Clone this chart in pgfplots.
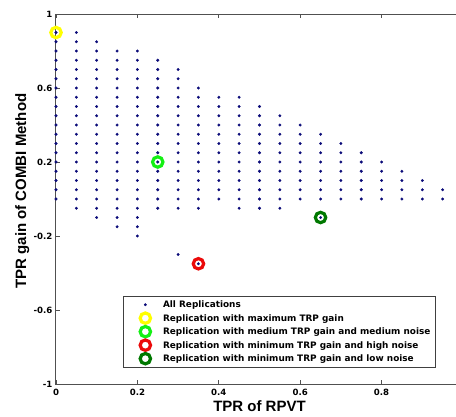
\documentclass[border=0pt]{standalone}
\usepackage{fontspec}
\setmainfont{Liberation Sans}
\newfontfamily\dejavu{DejaVu Sans}
\usepackage{pgfplots}
\pgfplotsset{compat=1.18}
\newcommand\tickfont{\dejavu\bfseries\fontsize{8.6}{10}\selectfont}
\newcommand\legfont{\dejavu\bfseries\fontsize{8.9}{10}\selectfont}
\newcommand\labfont{\bfseries\fontsize{15}{18}\selectfont}
\definecolor{dotblue}{RGB}{10,10,120}
\definecolor{ringyellow}{RGB}{255,255,0}
\definecolor{ringgreen}{RGB}{20,240,20}
\definecolor{ringred}{RGB}{235,10,10}
\definecolor{ringdark}{RGB}{0,120,0}
\definecolor{axgray}{RGB}{80,80,80}
\begin{document}
\begin{tikzpicture}
\begin{axis}[
  scale only axis, width=407pt, height=370pt,
  xmin=0, xmax=1, ymin=-1, ymax=1,
  xtick={0,0.2,0.4,0.6,0.8}, xticklabels={0,0.2,0.4,0.6,0.8},
  ytick={-1,-0.6,-0.2,0.2,0.6,1}, yticklabels={-1,-0.6,-0.2,0.2,0.6,1},
  tick align=inside, major tick length=4pt,
  axis line style={draw=axgray, line width=1pt},
  tick style={draw=axgray, line width=0.8pt},
  ticklabel style={font=\tickfont},
  xticklabel style={yshift=-2pt},
  clip=false,
  xlabel={TPR of RPVT}, ylabel={TPR gain of COMBI Method},
  xlabel style={font=\labfont, at={(axis description cs:0.5,-0.073)}, anchor=base},
  ylabel style={font=\labfont, at={(axis description cs:-0.0737,0.5216)}, anchor=base},
  legend style={draw=black!75, line width=0.6pt, fill=white,
    inner xsep=5pt, inner ysep=1.6pt, column sep=0pt, row sep=0pt,
    at={(axis description cs:0.164,0.2378)}, anchor=north west,
    font=\legfont, cells={anchor=west},
    nodes={inner sep=0pt, text height=6.3pt, text depth=0pt}},
  legend image code/.code={%
    \path[draw=none, fill=none] (-17.3pt,-6.75pt) rectangle (17.7pt,6.75pt);
    \draw[#1] plot coordinates {(0pt,0pt)};},
]
\addplot[only marks, mark=*, mark size=1.3pt, draw=dotblue, fill=dotblue, line width=0.3pt] coordinates {
(0,0.9)(0,0.85)(0,0.8)(0,0.75)(0,0.7)(0,0.65)(0,0.6)(0,0.55)(0,0.5)(0,0.45)(0,0.4)(0,0.35)(0,0.3)(0,0.25)(0,0.2)(0,0.15)(0,0.1)(0,0.05)(0,0)
(0.05,0.9)(0.05,0.85)(0.05,0.8)(0.05,0.75)(0.05,0.7)(0.05,0.65)(0.05,0.6)(0.05,0.55)(0.05,0.5)(0.05,0.45)(0.05,0.4)(0.05,0.35)(0.05,0.3)(0.05,0.25)(0.05,0.2)(0.05,0.15)(0.05,0.1)(0.05,0.05)(0.05,0)(0.05,-0.05)
(0.1,0.85)(0.1,0.8)(0.1,0.75)(0.1,0.7)(0.1,0.65)(0.1,0.6)(0.1,0.55)(0.1,0.5)(0.1,0.45)(0.1,0.4)(0.1,0.35)(0.1,0.3)(0.1,0.25)(0.1,0.2)(0.1,0.15)(0.1,0.1)(0.1,0.05)(0.1,0)(0.1,-0.05)(0.1,-0.1)
(0.15,0.8)(0.15,0.75)(0.15,0.7)(0.15,0.65)(0.15,0.6)(0.15,0.55)(0.15,0.5)(0.15,0.45)(0.15,0.4)(0.15,0.35)(0.15,0.3)(0.15,0.25)(0.15,0.2)(0.15,0.15)(0.15,0.1)(0.15,0.05)(0.15,0)(0.15,-0.05)(0.15,-0.1)(0.15,-0.15)
(0.2,0.8)(0.2,0.75)(0.2,0.7)(0.2,0.65)(0.2,0.6)(0.2,0.55)(0.2,0.5)(0.2,0.45)(0.2,0.4)(0.2,0.35)(0.2,0.3)(0.2,0.25)(0.2,0.2)(0.2,0.15)(0.2,0.1)(0.2,0.05)(0.2,0)(0.2,-0.05)(0.2,-0.1)(0.2,-0.15)(0.2,-0.2)
(0.25,0.75)(0.25,0.7)(0.25,0.65)(0.25,0.6)(0.25,0.55)(0.25,0.5)(0.25,0.45)(0.25,0.4)(0.25,0.35)(0.25,0.3)(0.25,0.25)(0.25,0.2)(0.25,0.15)(0.25,0.1)(0.25,0.05)(0.25,0)(0.25,-0.05)
(0.3,0.7)(0.3,0.65)(0.3,0.6)(0.3,0.55)(0.3,0.5)(0.3,0.45)(0.3,0.4)(0.3,0.35)(0.3,0.3)(0.3,0.25)(0.3,0.2)(0.3,0.15)(0.3,0.1)(0.3,0.05)(0.3,0)(0.3,-0.05)(0.3,-0.3)
(0.35,0.6)(0.35,0.55)(0.35,0.5)(0.35,0.45)(0.35,0.4)(0.35,0.35)(0.35,0.3)(0.35,0.25)(0.35,0.2)(0.35,0.15)(0.35,0.1)(0.35,0.05)(0.35,0)(0.35,-0.05)(0.35,-0.35)
(0.4,0.55)(0.4,0.5)(0.4,0.45)(0.4,0.4)(0.4,0.35)(0.4,0.3)(0.4,0.25)(0.4,0.2)(0.4,0.15)(0.4,0.1)(0.4,0.05)(0.4,0)
(0.45,0.55)(0.45,0.5)(0.45,0.45)(0.45,0.4)(0.45,0.35)(0.45,0.3)(0.45,0.25)(0.45,0.2)(0.45,0.15)(0.45,0.1)(0.45,0.05)(0.45,0)(0.45,-0.05)
(0.5,0.5)(0.5,0.45)(0.5,0.4)(0.5,0.35)(0.5,0.3)(0.5,0.25)(0.5,0.2)(0.5,0.15)(0.5,0.1)(0.5,0.05)(0.5,0)(0.5,-0.05)
(0.55,0.45)(0.55,0.4)(0.55,0.35)(0.55,0.3)(0.55,0.25)(0.55,0.2)(0.55,0.15)(0.55,0.1)(0.55,0.05)(0.55,0)(0.55,-0.05)
(0.6,0.4)(0.6,0.35)(0.6,0.3)(0.6,0.25)(0.6,0.2)(0.6,0.15)(0.6,0.1)(0.6,0.05)(0.6,0)
(0.65,0.35)(0.65,0.3)(0.65,0.25)(0.65,0.2)(0.65,0.15)(0.65,0.1)(0.65,0.05)(0.65,0)(0.65,-0.1)
(0.7,0.3)(0.7,0.25)(0.7,0.2)(0.7,0.15)(0.7,0.1)(0.7,0.05)(0.7,0)
(0.75,0.25)(0.75,0.2)(0.75,0.15)(0.75,0.1)(0.75,0.05)(0.75,0)
(0.8,0.2)(0.8,0.15)(0.8,0.1)(0.8,0.05)(0.8,0)
(0.85,0.15)(0.85,0.1)(0.85,0.05)(0.85,0)
(0.9,0.1)(0.9,0.05)(0.9,0)
(0.95,0.05)(0.95,0)
};
\addlegendentry{All Replications}
\addplot[only marks, mark=o, mark size=5.2pt, line width=3.2pt, draw=ringyellow] coordinates {(0,0.9)};
\addlegendentry{Replication with maximum TRP gain}
\addplot[only marks, mark=o, mark size=5.2pt, line width=3.2pt, draw=ringgreen] coordinates {(0.25,0.2)};
\addlegendentry{Replication with medium TRP gain and medium noise}
\addplot[only marks, mark=o, mark size=5.2pt, line width=3.2pt, draw=ringred] coordinates {(0.35,-0.35)};
\addlegendentry{Replication with minimum TRP gain and high noise}
\addplot[only marks, mark=o, mark size=5.2pt, line width=3.2pt, draw=ringdark] coordinates {(0.65,-0.1)};
\addlegendentry{Replication with minimum TRP gain and low noise}
\coordinate (o) at (rel axis cs:0,0);
\end{axis}
\pgfresetboundingbox
\path[use as bounding box] (o) ++(-56pt,-32pt) rectangle ++(456pt,416pt);
\end{tikzpicture}
\end{document}
